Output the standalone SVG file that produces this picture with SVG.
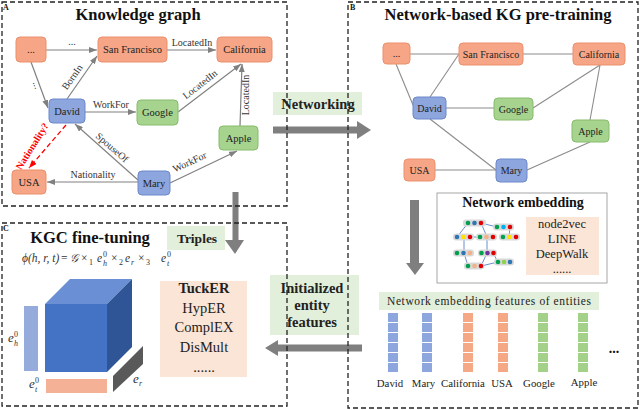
<svg xmlns="http://www.w3.org/2000/svg" width="640" height="410" viewBox="0 0 640 410">
<defs>
<style>
.nt{font-family:"Liberation Serif",serif;font-size:10.5px;text-anchor:middle;fill:#222}
.nb{font-family:"Liberation Serif",serif;font-size:10px;text-anchor:middle;fill:#222}
.el{font-family:"Liberation Serif",serif;font-size:10px;text-anchor:middle;fill:#333}
.or{fill:#F6A686;stroke:#EC8F6C;stroke-width:1}
.bl{fill:#8EA6DE;stroke:#6C88CC;stroke-width:1}
.gr{fill:#A6D38E;stroke:#86BC6C;stroke-width:1}
.edge{stroke:#808080;stroke-width:1.2;fill:none}
.und{stroke:#8C8C8C;stroke-width:1.1;fill:none}
.panel{fill:none;stroke:#222;stroke-width:1.3;stroke-dasharray:5 3}
.ttl{font-family:"Liberation Serif",serif;font-weight:bold;font-size:16.5px;text-anchor:middle;fill:#111}
.lbl{fill:#E2EFDA}
.bt{font-family:"Liberation Serif",serif;font-weight:bold;font-size:14.5px;text-anchor:middle;fill:#222}
.arr{fill:#7F7F7F}
.pl{font-family:"Liberation Serif",serif;font-weight:bold;font-size:8px;fill:#111}
.mt{font-family:"Liberation Serif",serif;font-size:14.5px;text-anchor:middle;fill:#222}
.ms{font-family:"Liberation Serif",serif;font-size:12.5px;text-anchor:middle;fill:#222}
.fl{font-family:"Liberation Serif",serif;font-size:10.8px;text-anchor:middle;fill:#222}
.math{font-family:"Liberation Serif","DejaVu Serif",serif;font-style:italic;font-size:11.5px;fill:#333}
.sm{font-size:8px}
.up{font-style:normal}
.fb{fill:#8EA6DE}.fo{fill:#F4A886}.fg{fill:#A3D18A}
.pill{fill:#D9D9D9}
.gl{stroke:#4472C4;stroke-width:0.8;fill:none}
</style>
<marker id="ah" markerWidth="8" markerHeight="6" refX="8" refY="3" orient="auto" markerUnits="userSpaceOnUse">
<path d="M0,0 L8,3 L0,6 z" fill="#808080"/>
</marker>
<marker id="ahr" markerWidth="8" markerHeight="6" refX="8" refY="3" orient="auto" markerUnits="userSpaceOnUse">
<path d="M0,0 L8,3 L0,6 z" fill="#FF0000"/>
</marker>
</defs>
<rect width="640" height="410" fill="#fff"/>

<!-- inter-panel arrows and labels -->
<g id="flow">
<rect class="lbl" x="273" y="92" width="89" height="23"/>
<text class="bt" x="318" y="108.5">Networking</text>
<rect class="arr" x="273" y="126.5" width="86" height="7"/>
<polygon class="arr" points="357,121 371,130 357,139"/>
<rect class="arr" x="232.5" y="192" width="6" height="49"/>
<polygon class="arr" points="225,240 244,240 235,254"/>
<rect class="arr" x="410" y="200" width="9" height="64"/>
<polygon class="arr" points="406,263 424,263 415,275"/>
<rect class="lbl" x="270" y="275" width="89" height="60"/>
<text class="bt" x="312" y="293">Initialized</text>
<text class="bt" x="312" y="310">entity</text>
<text class="bt" x="312" y="327">features</text>
<rect class="arr" x="276" y="344.5" width="86" height="7"/>
<polygon class="arr" points="278,340 278,356 265,348"/>
<rect class="lbl" x="167" y="226" width="58" height="24"/>
<text class="bt" x="197" y="243" style="font-size:13.5px">Triples</text>
</g>

<g id="panels">
<rect class="panel" x="2" y="2" width="285" height="204"/>
<rect class="panel" x="348" y="2" width="290" height="406"/>
<rect class="panel" x="2" y="223" width="285" height="183"/>
<text class="pl" x="3" y="10">A</text>
<text class="pl" x="350" y="10">B</text>
<text class="pl" x="3" y="231">C</text>
<text class="ttl" x="138" y="20">Knowledge graph</text>
<text class="ttl" x="498" y="20">Network-based KG pre-training</text>
<text class="ttl" x="90" y="243">KGC fine-tuning</text>
</g>

<!-- Panel A connectors -->
<g id="kg-edges">
<path class="edge" d="M46,50 L97,50" marker-end="url(#ah)"/>
<path class="edge" d="M167,50 L216,50" marker-end="url(#ah)"/>
<path class="edge" d="M31,62 L48,108" marker-end="url(#ah)"/>
<path class="edge" d="M67,99 L97,56" marker-end="url(#ah)"/>
<path class="edge" d="M85,112 L136,112" marker-end="url(#ah)"/>
<path class="edge" d="M178,112 L241,64" marker-end="url(#ah)"/>
<path class="edge" d="M240,126 L242,64" marker-end="url(#ah)"/>
<path class="edge" d="M138,180 L75,124" marker-end="url(#ah)"/>
<path class="edge" d="M170,183 L237,151" marker-end="url(#ah)"/>
<path class="edge" d="M138,182 L47,182" marker-end="url(#ah)"/>
<path d="M66,125 L29,168" stroke="#FF0000" stroke-width="1.3" stroke-dasharray="5 3" fill="none" marker-end="url(#ahr)"/>
<text class="el" x="72" y="45">...</text>
<text class="el" x="192" y="46">LocatedIn</text>
<text class="el" transform="translate(34,86) rotate(70)">...</text>
<text class="el" transform="translate(75,79) rotate(-55)">BornIn</text>
<text class="el" x="111" y="108">WorkFor</text>
<text class="el" transform="translate(202,87) rotate(-38)">LocatedIn</text>
<text class="el" transform="translate(249,95) rotate(-90)">LocatedIn</text>
<text class="el" transform="translate(110,150) rotate(41)">SpouseOf</text>
<text class="el" transform="translate(191,165) rotate(-25)">WorkFor</text>
<text class="el" x="93" y="178">Nationality</text>
<text class="el" transform="translate(35,148) rotate(-58)" style="fill:#FF0000;font-weight:bold">Nationality?</text>
</g>

<g id="kg-dots"><rect class="or" x="16" y="37" width="30" height="25" rx="4"/><text class="nt" x="31" y="53">...</text></g>
<g id="kg-sf"><rect class="or" x="98" y="37" width="69" height="25" rx="4"/><text class="nt" x="132.5" y="53">San Francisco</text></g>
<g id="kg-california"><rect class="or" x="217" y="37" width="55" height="25" rx="4"/><text class="nt" x="244.5" y="53">California</text></g>
<g id="kg-david"><rect class="bl" x="49" y="99" width="36" height="24" rx="4"/><text class="nt" x="67" y="114.5">David</text></g>
<g id="kg-google"><rect class="gr" x="137" y="100" width="41" height="25" rx="4"/><text class="nt" x="157.5" y="116">Google</text></g>
<g id="kg-apple"><rect class="gr" x="219" y="126" width="39" height="24" rx="4"/><text class="nt" x="238.5" y="141.5">Apple</text></g>
<g id="kg-usa"><rect class="or" x="12" y="170" width="34" height="24" rx="4"/><text class="nt" x="29" y="185.5">USA</text></g>
<g id="kg-mary"><rect class="bl" x="138" y="171" width="32" height="24" rx="4"/><text class="nt" x="154" y="186.5">Mary</text></g>

<!-- Panel B connectors -->
<g id="net-edges">
<path class="und" d="M410,54 L459,54"/>
<path class="und" d="M523,54 L573,54"/>
<path class="und" d="M396,64 L413,105"/>
<path class="und" d="M430,97 L459,54"/>
<path class="und" d="M446,108 L494,108"/>
<path class="und" d="M533,108 L600,65"/>
<path class="und" d="M590,120 L600,65"/>
<path class="und" d="M430,119 L496,170"/>
<path class="und" d="M527,170 L590,142"/>
<path class="und" d="M435,170 L496,170"/>
</g>
<g id="net-dots"><rect class="or" x="383" y="43" width="27" height="21" rx="4"/><text class="nb" x="396.5" y="57">...</text></g>
<g id="net-sf"><rect class="or" x="459" y="43" width="64" height="22" rx="4"/><text class="nb" x="491" y="57.5">San Francisco</text></g>
<g id="net-california"><rect class="or" x="573" y="43" width="52" height="22" rx="4"/><text class="nb" x="599" y="57.5">California</text></g>
<g id="net-david"><rect class="bl" x="413" y="97" width="33" height="22" rx="4"/><text class="nb" x="429.5" y="111.5">David</text></g>
<g id="net-google"><rect class="gr" x="494" y="98" width="39" height="22" rx="4"/><text class="nb" x="513.5" y="112.5">Google</text></g>
<g id="net-apple"><rect class="gr" x="572" y="120" width="37" height="22" rx="4"/><text class="nb" x="590.5" y="134.5">Apple</text></g>
<g id="net-usa"><rect class="or" x="404" y="159" width="31" height="22" rx="4"/><text class="nb" x="419.5" y="173.5">USA</text></g>
<g id="net-mary"><rect class="bl" x="496" y="159" width="31" height="23" rx="4"/><text class="nb" x="511.5" y="174">Mary</text></g>

<!-- Network embedding box -->
<g id="network-embedding">
<rect x="437" y="193" width="170" height="90" fill="#fff" stroke="#A6A6A6" stroke-width="1"/>
<text x="523" y="207" style="font-family:'Liberation Serif',serif;font-weight:bold;font-size:14px;text-anchor:middle;fill:#111">Network embedding</text>
<rect x="526" y="217" width="73" height="58" fill="#FBE5D6"/>
<text class="ms" x="562" y="228">node2vec</text>
<text class="ms" x="562" y="243">LINE</text>
<text class="ms" x="562" y="257.5">DeepWalk</text>
<text class="ms" x="562" y="273">......</text>
<g id="mini-graph">
<path class="gl" d="M468,223 L457,237 M481,223 L487,237 M481,223 L497,227 M510,227 L509,237 M464,237 L464,253 M487,237 L487,253 M464,253 L468,266 M487,253 L481,266 M493,253 L498,262 M481,266 L498,262 M470,237 L480,237"/>
<rect class="pill" x="463" y="219.5" width="23" height="7" rx="3"/>
<rect class="pill" x="493" y="223.5" width="21" height="7" rx="3"/>
<rect class="pill" x="453" y="233.5" width="21" height="7" rx="3"/>
<rect class="pill" x="476" y="233.5" width="21" height="7" rx="3"/>
<rect class="pill" x="499" y="233.5" width="21" height="7" rx="3"/>
<rect class="pill" x="453" y="249.5" width="21" height="7" rx="3"/>
<rect class="pill" x="478" y="249.5" width="19" height="7" rx="3"/>
<rect class="pill" x="464" y="262.5" width="20" height="7" rx="3"/>
<rect class="pill" x="494" y="258.5" width="20" height="7" rx="3"/>
<circle cx="468" cy="223" r="2.3" fill="#00A050"/><circle cx="474.5" cy="223" r="2.3" fill="#2E75B6"/><circle cx="481" cy="223" r="2.3" fill="#E00000"/>
<circle cx="497" cy="227" r="2.3" fill="#00A050"/><circle cx="503.5" cy="227" r="2.3" fill="#00B0F0"/><circle cx="510" cy="227" r="2.3" fill="#E00000"/>
<circle cx="457" cy="237" r="2.3" fill="#2E75B6"/><circle cx="463.5" cy="237" r="2.3" fill="#FFE000"/><circle cx="470" cy="237" r="2.3" fill="#E00000"/>
<circle cx="480" cy="237" r="2.3" fill="#00A050"/><circle cx="486.5" cy="237" r="2.3" fill="#F4B183"/><circle cx="493" cy="237" r="2.3" fill="#E00000"/>
<circle cx="503" cy="237" r="2.3" fill="#00A050"/><circle cx="509.5" cy="237" r="2.3" fill="#FFE000"/><circle cx="516" cy="237" r="2.3" fill="#E00000"/>
<circle cx="457" cy="253" r="2.3" fill="#00A050"/><circle cx="463.5" cy="253" r="2.3" fill="#2E75B6"/><circle cx="470" cy="253" r="2.3" fill="#F4B183"/>
<circle cx="481.5" cy="253" r="2.3" fill="#00A050"/><circle cx="487.5" cy="253" r="2.3" fill="#7030A0"/><circle cx="493.5" cy="253" r="2.3" fill="#E00000"/>
<circle cx="468" cy="266" r="2.3" fill="#00A050"/><circle cx="474.5" cy="266" r="2.3" fill="#F4B183"/><circle cx="481" cy="266" r="2.3" fill="#E00000"/>
<circle cx="498" cy="262" r="2.3" fill="#00A050"/><circle cx="504" cy="262" r="2.3" fill="#92D050"/><circle cx="510" cy="262" r="2.3" fill="#2E75B6"/>
</g>
</g>

<!-- Feature vectors -->
<g id="features">
<rect class="lbl" x="379" y="292" width="220" height="18"/>
<text x="489" y="305" textLength="204" style="font-family:'Liberation Serif',serif;font-size:11.5px;text-anchor:middle;fill:#222">Network embedding features of entities</text>
<g class="fb">
<rect x="388" y="313" width="10" height="9"/><rect x="388" y="323" width="10" height="9"/><rect x="388" y="333" width="10" height="9"/><rect x="388" y="343" width="10" height="9"/><rect x="388" y="353" width="10" height="9"/><rect x="388" y="363" width="10" height="9"/>
<rect x="422" y="313" width="10" height="9"/><rect x="422" y="323" width="10" height="9"/><rect x="422" y="333" width="10" height="9"/><rect x="422" y="343" width="10" height="9"/><rect x="422" y="353" width="10" height="9"/><rect x="422" y="363" width="10" height="9"/>
</g>
<g class="fo">
<rect x="463" y="313" width="10" height="9"/><rect x="463" y="323" width="10" height="9"/><rect x="463" y="333" width="10" height="9"/><rect x="463" y="343" width="10" height="9"/><rect x="463" y="353" width="10" height="9"/><rect x="463" y="363" width="10" height="9"/>
<rect x="498" y="313" width="10" height="9"/><rect x="498" y="323" width="10" height="9"/><rect x="498" y="333" width="10" height="9"/><rect x="498" y="343" width="10" height="9"/><rect x="498" y="353" width="10" height="9"/><rect x="498" y="363" width="10" height="9"/>
</g>
<g class="fg">
<rect x="538" y="313" width="10" height="9"/><rect x="538" y="323" width="10" height="9"/><rect x="538" y="333" width="10" height="9"/><rect x="538" y="343" width="10" height="9"/><rect x="538" y="353" width="10" height="9"/><rect x="538" y="363" width="10" height="9"/>
<rect x="578" y="313" width="10" height="9"/><rect x="578" y="323" width="10" height="9"/><rect x="578" y="333" width="10" height="9"/><rect x="578" y="343" width="10" height="9"/><rect x="578" y="353" width="10" height="9"/><rect x="578" y="363" width="10" height="9"/>
</g>
<text class="fl" x="390" y="387">David</text>
<text class="fl" x="423.5" y="387">Mary</text>
<text class="fl" x="463" y="387">California</text>
<text class="fl" x="502" y="387">USA</text>
<text class="fl" x="539" y="387">Google</text>
<text class="fl" x="584" y="386">Apple</text>
<text x="614" y="353" style="font-family:'Liberation Serif',serif;font-weight:bold;font-size:14px;text-anchor:middle;fill:#111">...</text>
</g>

<!-- Panel C -->
<g id="formula" class="math">
<text x="22" y="262">ϕ(h, r, t)</text>
<text x="61" y="262" class="up">=</text>
<text x="70" y="262">𝒢</text>
<text x="81" y="262" class="up">×</text>
<text x="89" y="265" class="up sm">1</text>
<text x="97" y="262">e</text>
<text x="103" y="257" class="up sm">0</text>
<text x="103" y="266" class="sm">h</text>
<text x="111" y="262" class="up">×</text>
<text x="119" y="265" class="up sm">2</text>
<text x="125" y="262">e</text>
<text x="131" y="265" class="sm">r</text>
<text x="138" y="262" class="up">×</text>
<text x="146" y="265" class="up sm">3</text>
<text x="161" y="262">e</text>
<text x="167" y="257" class="up sm">0</text>
<text x="167" y="266" class="sm">t</text>
</g>
<g id="tensor">
<polygon points="45,304 70,279 132,279 107,304" fill="#6A8FD4"/>
<polygon points="107,304 132,279 132,347 107,372" fill="#2F5597"/>
<rect x="45" y="304" width="62" height="68" fill="#4472C4"/>
<rect x="24" y="306" width="14" height="65" fill="#95ABDB"/>
<rect x="46" y="379" width="61" height="14" fill="#F4B196"/>
<polygon points="113,376 143,346 143,364 113,392" fill="#595959"/>
<g class="math" style="font-size:13px">
<text x="8" y="342">e</text><text x="14" y="337" class="up sm">0</text><text x="14" y="346" class="sm">h</text>
<text x="29" y="388">e</text><text x="35" y="383" class="up sm">0</text><text x="35" y="392" class="sm">t</text>
<text x="133" y="383">e</text><text x="139" y="386" class="sm">r</text>
</g>
</g>
<g id="models">
<rect x="160" y="281" width="87" height="96" fill="#FBE5D6"/>
<text class="mt" x="204" y="293" font-weight="bold">TuckER</text>
<text class="mt" x="204" y="313">HypER</text>
<text class="mt" x="204" y="332">ComplEX</text>
<text class="mt" x="204" y="352">DisMult</text>
<text class="mt" x="204" y="372">......</text>
</g>
</svg>
